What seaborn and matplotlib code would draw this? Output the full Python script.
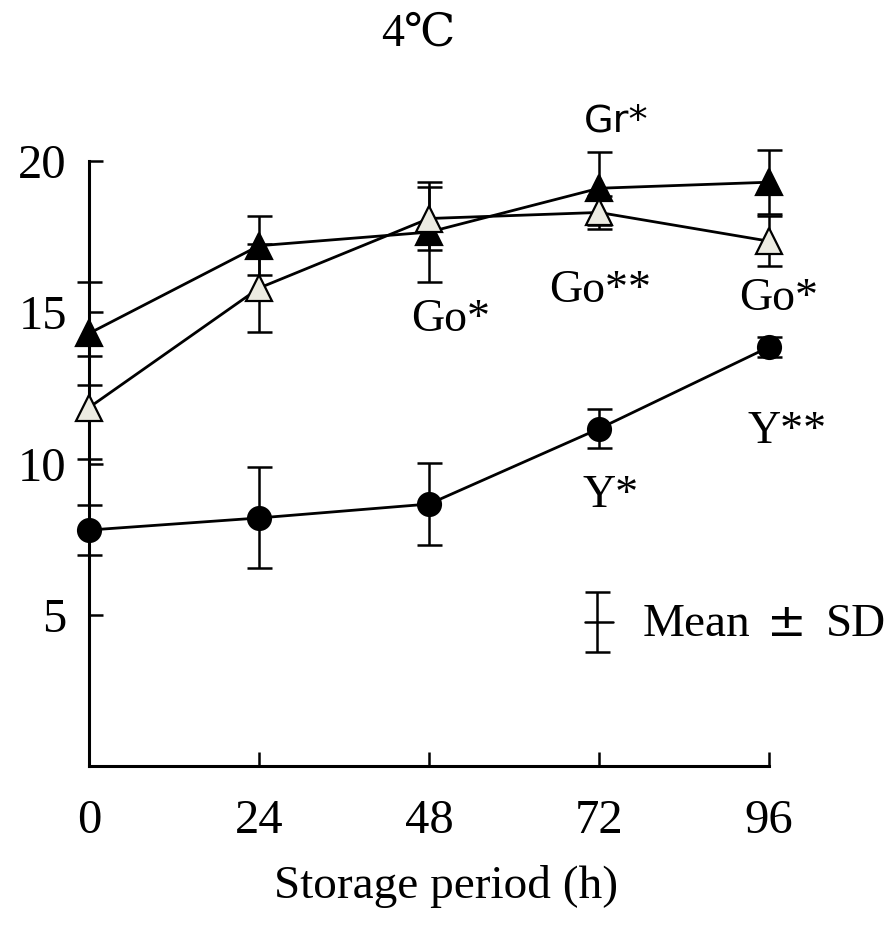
import matplotlib
matplotlib.use("Agg")
import matplotlib.pyplot as plt
import numpy as np
import pandas as pd
import seaborn as sns

# Storage time points (h)
hours = [0, 24, 48, 72, 96]

# Gr (filled triangles)
gr_mean = [14.3, 17.2, 17.65, 19.1, 19.3]
gr_sd = [1.7, 0.97, 1.65, 1.2, 1.05]

# Go (open triangles)
go_mean = [11.85, 15.8, 18.1, 18.3, 17.35]
go_sd = [1.7, 1.45, 1.05, 0.55, 0.83]

# Y (filled circles)
y_mean = [7.8, 8.2, 8.66, 11.15, 13.85]
y_sd = [0.83, 1.67, 1.37, 0.65, 0.33]

# significance marks: text, x, y, font style
notes = [("Gr*", 74.4, 21.3, "sans"),
         ("Go*", 51.0, 14.75, "serif"), ("Go**", 72.2, 15.7, "serif"),
         ("Go*", 97.3, 15.45, "serif"),
         ("Y*", 73.7, 8.95, "serif"), ("Y**", 98.5, 11.05, "serif")]

yticks = [5, 10, 15, 20]
xticks = [0, 24, 48, 72, 96]

sns.set_theme(style="ticks")
plt.rcParams["font.family"] = ["Liberation Serif", "DejaVu Serif"]

fig = plt.figure(figsize=(8.91, 9.26), dpi=100)
ax = fig.add_axes([0.0999, 0.1728, 0.7632, 0.6533])

series = [
    ("Gr", gr_mean, gr_sd, "^", "black", 19),
    ("Go", go_mean, go_sd, "^", "#ECEBE2", 19),
    ("Y", y_mean, y_sd, "o", "black", 16.5),
]

for i, (name, m, sd, mk, fc, ms) in enumerate(series):
    df = pd.DataFrame({"h": hours, "v": m})
    ax.errorbar(hours, m, yerr=sd, fmt="none", ecolor="black",
                elinewidth=1.8, capsize=9, capthick=1.8, zorder=2 + i * 0.01,
                clip_on=False)
    sns.lineplot(data=df, x="h", y="v", ax=ax, color="black", lw=2.0,
                 marker=None, zorder=3, legend=False)
    ax.plot(hours, m, linestyle="none", marker=mk, ms=ms,
            mfc=fc, mec="black", mew=1.6, zorder=4 + i, clip_on=False)

for ln in ax.lines:
    ln.set_clip_on(False)

ax.set_xlim(0, 96)
ax.set_ylim(0, 20)
ax.set_xticks(xticks)
ax.set_yticks(yticks)
ax.set_xticklabels([str(t) for t in xticks])
ax.set_yticklabels([str(t) for t in yticks])
ax.tick_params(axis="both", direction="in", length=10, width=1.8,
               labelsize=35, colors="black")
ax.tick_params(axis="x", pad=24)
ax.tick_params(axis="y", pad=16)
sns.despine(ax=ax)
for s in ("left", "bottom"):
    ax.spines[s].set_linewidth(2.2)
    ax.spines[s].set_color("black")
ax.set_xlabel("Storage period (h)", fontsize=34, color="black")
ax.xaxis.set_label_coords(0.525, -0.163)
ax.set_ylabel("")
ax.set_facecolor("white")

for txt, x, y, fam in notes:
    if fam == "sans":
        ax.text(x, y, txt, ha="center", va="center", fontsize=27.5,
                family="DejaVu Sans", color="black")
    else:
        ax.text(x, y, txt, ha="center", va="center", fontsize=33,
                color="black")

# key: error-bar symbol and caption
ax.errorbar([71.7], [4.76], yerr=[0.99], fmt="none", ecolor="black",
            elinewidth=1.8, capsize=9, capthick=1.8, clip_on=False)
ax.plot([70.0, 74.0], [4.76, 4.76], color="black", lw=1.8)
ax.text(78.1, 4.66, "Mean", ha="left", va="center", fontsize=34,
        color="black")
ax.text(98.5, 4.72, "±", ha="center", va="center", fontsize=34,
        family="DejaVu Sans", color="black")
ax.text(104.0, 4.66, "SD", ha="left", va="center", fontsize=34,
        color="black")

fig.text(0.470, 0.963, "4℃", ha="center", va="center", fontsize=33,
         family=["Liberation Serif", "DejaVu Serif"], color="black")

fig.savefig("out.png", dpi=100, facecolor="white")
